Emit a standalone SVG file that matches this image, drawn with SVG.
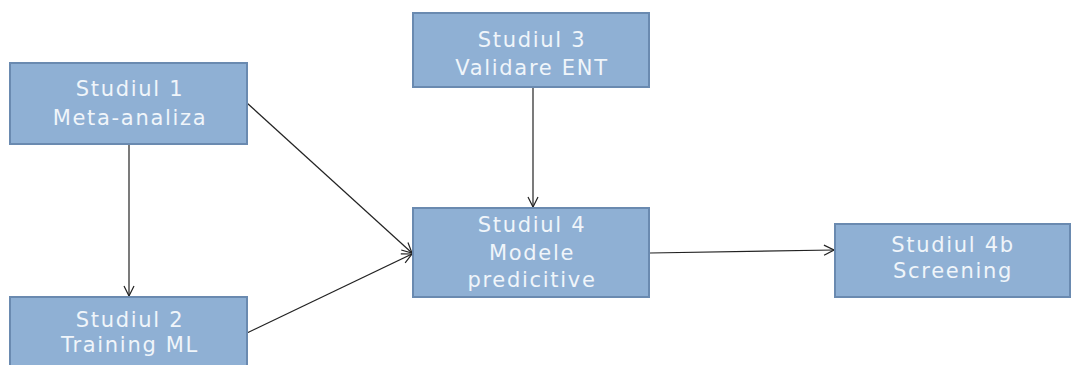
<svg xmlns="http://www.w3.org/2000/svg" width="1071" height="365" viewBox="0 0 1071 365">
<defs>
<style>
.box{fill:#8FB0D4;stroke:#6A8AB0;stroke-width:2}
.t{font-family:"DejaVu Sans",sans-serif;font-size:21px;fill:#F0F5FA;text-anchor:middle;letter-spacing:1.7px}
.c{stroke:#222;stroke-width:1.2;fill:none;marker-end:url(#ah)}
</style>
<marker id="ah" viewBox="0 0 12 12" refX="11" refY="6" markerWidth="12" markerHeight="12" markerUnits="userSpaceOnUse" orient="auto">
<polyline points="1,1 11,6 1,11" fill="none" stroke="#222" stroke-width="1.2"/>
</marker>
</defs>
<rect width="1071" height="365" fill="#fff"/>
<g id="connectors">
<line class="c" x1="129" y1="145" x2="129" y2="296"/>
<line class="c" x1="247" y1="103" x2="412" y2="253"/>
<line class="c" x1="247" y1="333" x2="412" y2="254"/>
<line class="c" x1="533" y1="88" x2="533" y2="207"/>
<line class="c" x1="650" y1="253" x2="834" y2="250"/>
</g>
<g id="n1">
<rect class="box" x="10" y="63" width="237" height="81"/>
<text class="t" x="130" y="96">Studiul 1</text>
<text class="t" x="130" y="125">Meta-analiza</text>
</g>
<g id="n2">
<rect class="box" x="10" y="297" width="237" height="80"/>
<text class="t" x="130" y="327">Studiul 2</text>
<text class="t" x="130" y="352">Training ML</text>
</g>
<g id="n3">
<rect class="box" x="413" y="13" width="236" height="74"/>
<text class="t" x="532" y="47">Studiul 3</text>
<text class="t" x="532" y="75">Validare ENT</text>
</g>
<g id="n4">
<rect class="box" x="413" y="208" width="236" height="89"/>
<text class="t" x="532" y="232">Studiul 4</text>
<text class="t" x="532" y="260">Modele</text>
<text class="t" x="532" y="287">predicitive</text>
</g>
<g id="n5">
<rect class="box" x="835" y="224" width="235" height="73"/>
<text class="t" x="953" y="252">Studiul 4b</text>
<text class="t" x="953" y="278">Screening</text>
</g>
</svg>
